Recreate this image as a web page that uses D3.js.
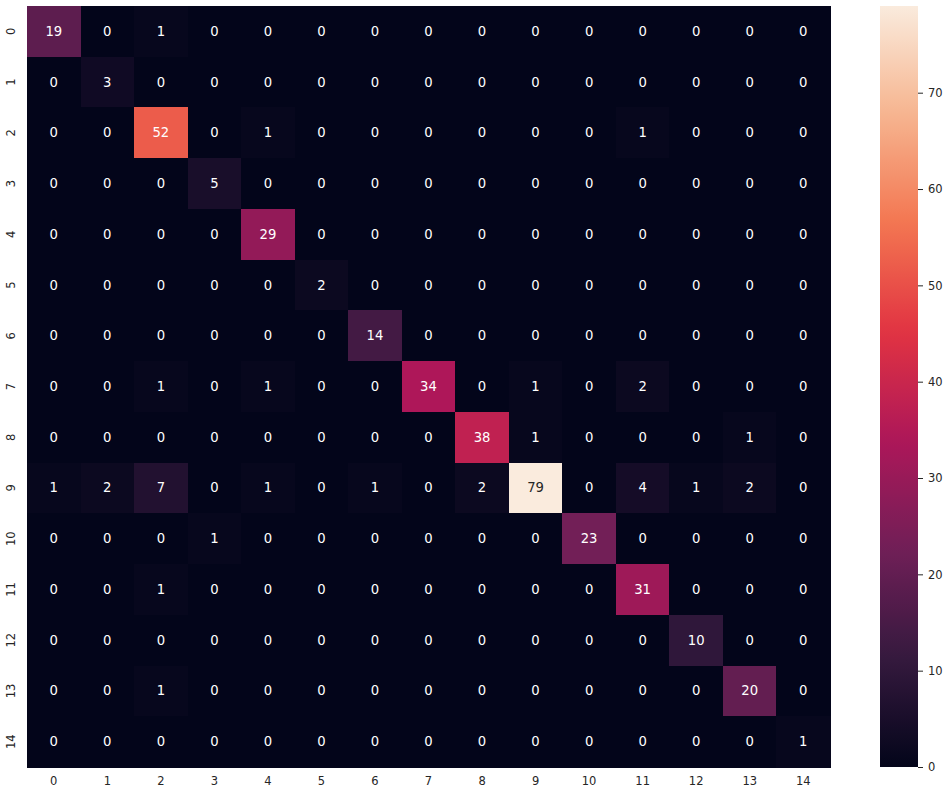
<!DOCTYPE html>
<html><head><meta charset="utf-8">
<script src="https://cdn.jsdelivr.net/npm/d3@7"></script>
<style>body{margin:0;background:#fff;} text{font-family:"DejaVu Sans",sans-serif;}</style>
</head><body>
<svg id="chart" width="949" height="794"></svg>
<script>
const labels = ["0","1","2","3","4","5","6","7","8","9","10","11","12","13","14"];
const matrix = [
 [19,0,1,0,0,0,0,0,0,0,0,0,0,0,0],
 [0,3,0,0,0,0,0,0,0,0,0,0,0,0,0],
 [0,0,52,0,1,0,0,0,0,0,0,1,0,0,0],
 [0,0,0,5,0,0,0,0,0,0,0,0,0,0,0],
 [0,0,0,0,29,0,0,0,0,0,0,0,0,0,0],
 [0,0,0,0,0,2,0,0,0,0,0,0,0,0,0],
 [0,0,0,0,0,0,14,0,0,0,0,0,0,0,0],
 [0,0,1,0,1,0,0,34,0,1,0,2,0,0,0],
 [0,0,0,0,0,0,0,0,38,1,0,0,0,1,0],
 [1,2,7,0,1,0,1,0,2,79,0,4,1,2,0],
 [0,0,0,1,0,0,0,0,0,0,23,0,0,0,0],
 [0,0,1,0,0,0,0,0,0,0,0,31,0,0,0],
 [0,0,0,0,0,0,0,0,0,0,0,0,10,0,0],
 [0,0,1,0,0,0,0,0,0,0,0,0,0,20,0],
 [0,0,0,0,0,0,0,0,0,0,0,0,0,0,1]
];
const cbarTicks = [0,10,20,30,40,50,60,70];
const rocketStops = ["#03051a","#35193e","#701f57","#ad1759","#e13342","#f37651","#f6b48f","#faebdd"];
const rocketPos = [0,1/7,2/7,3/7,4/7,5/7,6/7,1];

const svg = d3.select("#chart");
const vmax = d3.max(matrix.flat()), vmin = 0;
const rocket = d3.scaleLinear().domain(rocketPos).range(rocketStops).interpolate(d3.interpolateRgb);
const color = v => rocket((v - vmin)/(vmax - vmin));

const x = d3.scaleBand().domain(labels).range([27, 830]);
const y = d3.scaleBand().domain(labels).range([6, 767]);

const cells = [];
matrix.forEach((row,i)=>row.forEach((v,j)=>cells.push({r:labels[i],c:labels[j],v})));

svg.append("g").attr("shape-rendering","crispEdges").selectAll("rect").data(cells).join("rect")
  .attr("x",d=>x(d.c)).attr("y",d=>y(d.r))
  .attr("width",x.bandwidth()+0.6).attr("height",y.bandwidth()+0.6)
  .attr("fill",d=>color(d.v));

function lum(c){
  const rgb = d3.rgb(c);
  const f = v=>{v/=255; return v<=0.03928? v/12.92 : Math.pow((v+0.055)/1.055,2.4);};
  return 0.2126*f(rgb.r)+0.7152*f(rgb.g)+0.0722*f(rgb.b);
}
svg.append("g").selectAll("text").data(cells).join("text")
  .attr("x",d=>x(d.c)+x.bandwidth()/2).attr("y",d=>y(d.r)+y.bandwidth()/2)
  .attr("text-anchor","middle").attr("dominant-baseline","central")
  .attr("font-size","13.2px")
  .attr("fill",d=>lum(color(d.v))>0.408?"#262626":"#ffffff")
  .text(d=>d.v);

// x axis labels
const xAxis = d3.axisBottom(x).tickSize(0).tickPadding(10);
const gx = svg.append("g").attr("transform","translate(0,767)").call(xAxis);
gx.select(".domain").remove();
gx.selectAll("text").attr("font-size","11.5px").attr("fill","#262626").attr("font-family","DejaVu Sans");

// y axis labels
const yAxis = d3.axisLeft(y).tickSize(0).tickPadding(0);
const gy = svg.append("g").attr("transform","translate(27,0)").call(yAxis);
gy.select(".domain").remove();
gy.selectAll("text")
  .attr("font-size","11.5px").attr("fill","#262626").attr("font-family","DejaVu Sans")
  .attr("text-anchor","middle").attr("dy",null).attr("x",null).attr("y",0)
  .attr("transform","translate(-11.7,0) rotate(-90)");

// colorbar
const defs = svg.append("defs");
const grad = defs.append("linearGradient").attr("id","cb").attr("x1","0").attr("y1","1").attr("x2","0").attr("y2","0");
d3.range(0,1.0001,0.02).forEach(t=>grad.append("stop").attr("offset",t).attr("stop-color",rocket(t)));
const cy = d3.scaleLinear().domain([vmin,vmax]).range([767,6]);
svg.append("rect").attr("x",880).attr("y",6).attr("width",38).attr("height",761).attr("fill","url(#cb)");
const cAxis = d3.axisRight(cy).tickValues(cbarTicks).tickSize(5).tickPadding(5);
const gc = svg.append("g").attr("transform","translate(918,0)").call(cAxis);
gc.select(".domain").remove();
gc.selectAll("line").attr("stroke","#262626").attr("stroke-width",1);
gc.selectAll("text").attr("font-size","11.5px").attr("fill","#262626").attr("font-family","DejaVu Sans");
</script>
</body></html>
